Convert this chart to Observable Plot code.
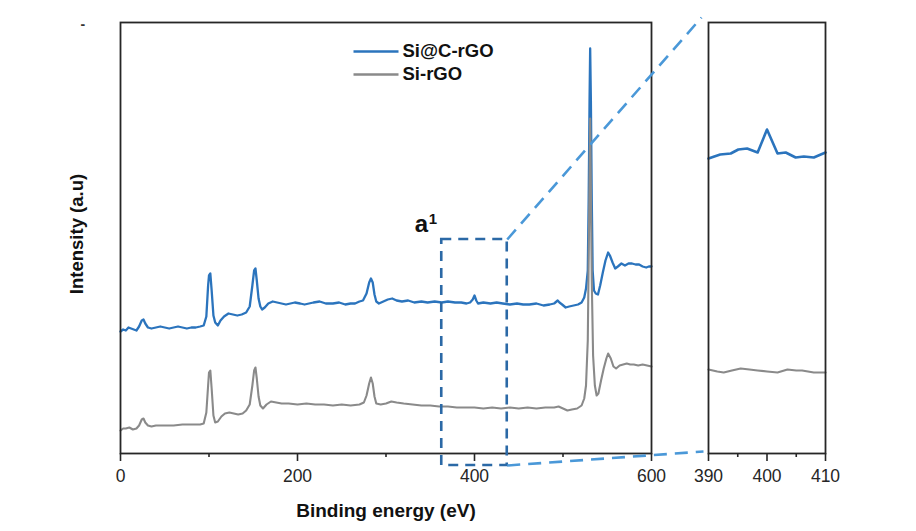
<!DOCTYPE html>
<html><head><meta charset="utf-8">
<script src="https://cdn.jsdelivr.net/npm/d3@7"></script>
<script src="https://cdn.jsdelivr.net/npm/@observablehq/plot@0.6"></script>
<style>
body{margin:0;background:#fff;}
#wrap{position:relative;width:916px;height:531px;overflow:hidden;}
#wrap svg{position:absolute;left:0;top:0;}
</style></head><body><div id="wrap"></div>
<script>
// ---------- data ----------
const seriesNames = ["Si@C-rGO", "Si-rGO"];
const seriesColors = ["#2b74bd", "#8a8a8a"];
const xLabel = "Binding energy (eV)";
const yLabel = "Intensity (a.u)";
const zoomLabel = "a";
const zoomLabelSup = "1";
const mainTicks = [0, 200, 400, 600];
const mainMinorTicks = [100, 300, 500];
const insetTicks = [390, 400, 410];
const insetMinorTicks = [395, 405];
const zoomBox = {x1: 363, x2: 437, y1: -12, y2: 214};

const energyA = [0,3,6,9,12,15,18,21,24,26,28,31,35,40,45,50,55,60,65,70,75,80,85,90,94,97,99,100,101.5,103,105,107,110,113,117,122,127,132,137,142,146,149,151,152.5,154,156,158,160,163,167,172,177,182,187,192,197,203,208,213,218,225,232,240,247,254,260,265,270,274,278,281,283,285,287,289,292,297,302,307,312,318,325,332,340,347,355,363,370,378,385,391,395,398,400,402,404,410,418,425,432,440,448,455,462,470,478,485,490,494,496,499,503,507,512,517,521,524,526,528,529,530,530.7,531.5,532.5,533.5,535,537,539.5,542,545,548,551,553,556,559,562,566,570,574,578,582,586,590,594,597,600];
const intensityA = [122,124,123,126,125,124,123,127,133,134,130,126,125,126,127,126,125,126,127,126,125,126,126,127,128,137,168,178,180,163,138,131,128,133,137,140,139,138,139,141,147,168,183,185,173,155,147,144,146,150,152,151,150,149,150,151,150,149,150,151,152,150,150,151,149,150,150,152,153,160,171,175,171,159,152,150,152,154,155,153,152,153,151,152,151,152,151,152,151,151,150,151,154,158,153,150,151,150,151,150,149,150,149,149,150,148,149,150,153,151,149,146,147,148,149,151,156,165,183,253,353,405,353,253,183,163,160,159,168,181,193,201,198,191,185,187,190,188,190,190,189,189,187,186,187,187];

const energyB = [0,3,6,10,14,18,21,24,26,28,31,35,40,50,60,70,80,90,94,97,99,100,101.5,103,105,107,110,114,118,123,128,133,138,142,146,149,151,152.5,154,156,158,161,165,170,176,182,190,200,210,220,230,240,250,260,270,275,278,281,283,285,287,289,294,300,306,312,320,330,340,350,360,370,380,390,400,410,420,430,440,450,460,470,480,490,495,500,505,510,516,521,524,526,528,529,530,530.7,531.5,532.5,534,536,538,540,543,546,549,551,554,557,560,564,568,572,576,580,585,590,595,600];
const intensityB = [23,25,25,26,24,25,28,34,35,31,28,27,28,28,28,29,29,29,30,41,68,81,83,65,38,31,32,37,40,41,40,39,40,43,49,68,83,86,75,57,48,45,49,52,51,50,50,49,50,49,49,48,49,48,49,51,58,70,76,70,57,50,49,50,52,51,50,49,48,48,47,47,46,46,46,45,46,45,46,45,46,45,46,46,47,45,43,44,45,48,55,68,113,193,273,335,263,173,98,68,58,60,73,85,95,100,95,87,85,88,89,90,89,89,88,89,88,87];

const insetEnergyA = [390,392,393.8,395.1,396.6,398.4,400,401.8,403.2,404.9,406.3,408,410];
const insetIntensityA = [295,299,300,304,305,301,324,300,301,296,297,296,301];
const insetEnergyB = [390,391.5,392.6,394,395.5,397,398.4,400,401.8,403.5,405,406,408,410];
const insetIntensityB = [84,82,81,83,85,84,83,82,81,84,83,83,81,81];

// ---------- layout ----------
const W = 916, H = 531, MT = 22, MB = 78, ML = 120, MR = 265;
const IML = 708, IMR = 91;
const yDomain = [0, 431];
const font = "'Liberation Sans', Arial, Helvetica, sans-serif";
const ink = "#262626";
const boxColor = "#2b69a6";
const connColor = "#4a98d8";

const xMain = d3.scaleLinear([0, 600], [ML, W - MR]);
const yMain = d3.scaleLinear(yDomain, [H - MB, MT]);

const rowsA = energyA.map((e, i) => ({e, v: intensityA[i]}));
const rowsB = energyB.map((e, i) => ({e, v: intensityB[i]}));
const insetA = insetEnergyA.map((e, i) => ({e, v: insetIntensityA[i]}));
const insetB = insetEnergyB.map((e, i) => ({e, v: insetIntensityB[i]}));

const connectors = [
  {x1: zoomBox.x2, y1: zoomBox.y2, x2: xMain.invert(IML - 7), y2: yMain.invert(MT - 5)},
  {x1: zoomBox.x2, y1: zoomBox.y1, x2: xMain.invert(IML - 5), y2: yMain.invert(H - MB - 2)}
];
const legendRows = seriesNames.map((s, i) => ({
  name: s, color: seriesColors[i],
  x1: xMain.invert(ML + 233), x2: xMain.invert(ML + 278), xt: xMain.invert(ML + 282),
  y: yMain.invert(MT + 29 + i * 23)
}));

const main = Plot.plot({
  width: W, height: H, marginTop: MT, marginBottom: MB, marginLeft: ML, marginRight: MR,
  style: {background: "transparent", fontFamily: font, overflow: "visible", color: ink},
  x: {domain: [0, 600]},
  y: {domain: yDomain, axis: null},
  marks: [
    Plot.line(rowsA, {x: "e", y: "v", stroke: seriesColors[0], strokeWidth: 2.3}),
    Plot.line(rowsB, {x: "e", y: "v", stroke: seriesColors[1], strokeWidth: 2.1}),
    Plot.frame({stroke: ink, strokeWidth: 1.8}),
    Plot.axisX({ticks: mainTicks, tickSize: 8, tickPadding: 8, fontSize: 17.5, stroke: ink, strokeWidth: 1.6, label: null}),
    Plot.axisX({ticks: mainMinorTicks, tickSize: 4, tickFormat: () => "", stroke: ink, strokeWidth: 1.6, label: null}),
    Plot.rect([zoomBox], {x1: "x1", x2: "x2", y1: "y1", y2: "y2", fill: "none", stroke: boxColor, strokeWidth: 2.6, strokeDasharray: "10,7"}),
    Plot.link(connectors, {x1: "x1", y1: "y1", x2: "x2", y2: "y2", stroke: connColor, strokeWidth: 2.6, strokeDasharray: "13,8"}),
    Plot.text([zoomBox], {x: "x1", y: "y2", text: () => zoomLabel, textAnchor: "start", lineAnchor: "bottom", dx: -27, dy: -8, fontSize: 24, fontWeight: "bold", fill: "#111"}),
    Plot.text([zoomBox], {x: "x1", y: "y2", text: () => zoomLabelSup, textAnchor: "start", lineAnchor: "bottom", dx: -13, dy: -16, fontSize: 15, fontWeight: "bold", fill: "#111"}),
    Plot.link(legendRows, {x1: "x1", x2: "x2", y1: "y", y2: "y", stroke: "color", strokeWidth: 2.6}),
    Plot.text(legendRows, {x: "xt", y: "y", text: "name", textAnchor: "start", lineAnchor: "middle", fontSize: 18.5, fontWeight: "bold", fill: "#111"}),
    Plot.text([xLabel], {frameAnchor: "bottom", dy: 57, lineAnchor: "middle", fontSize: 19, fontWeight: "bold", fill: "#111"}),
    Plot.text([yLabel], {frameAnchor: "left", dx: -43, dy: -4, rotate: -90, lineAnchor: "middle", textAnchor: "middle", fontSize: 18.5, fontWeight: "bold", fill: "#111"}),
    Plot.text(["-"], {frameAnchor: "top-left", dx: -40, dy: -3, fontSize: 14, fontWeight: "bold", fill: "#333"})
  ]
});

const inset = Plot.plot({
  width: W, height: H, marginTop: MT, marginBottom: MB, marginLeft: IML, marginRight: IMR,
  style: {background: "transparent", fontFamily: font, overflow: "visible", color: ink},
  x: {domain: [390, 410]},
  y: {domain: yDomain, axis: null},
  marks: [
    Plot.line(insetA, {x: "e", y: "v", stroke: seriesColors[0], strokeWidth: 2.6}),
    Plot.line(insetB, {x: "e", y: "v", stroke: seriesColors[1], strokeWidth: 2.2}),
    Plot.frame({stroke: ink, strokeWidth: 1.8}),
    Plot.axisX({ticks: insetTicks, tickSize: 8, tickPadding: 8, fontSize: 17.5, stroke: ink, strokeWidth: 1.6, label: null}),
    Plot.axisX({ticks: insetMinorTicks, tickSize: 4, tickFormat: () => "", stroke: ink, strokeWidth: 1.6, label: null})
  ]
});

const wrap = document.getElementById("wrap");
wrap.appendChild(main);
wrap.appendChild(inset);
</script></body></html>
